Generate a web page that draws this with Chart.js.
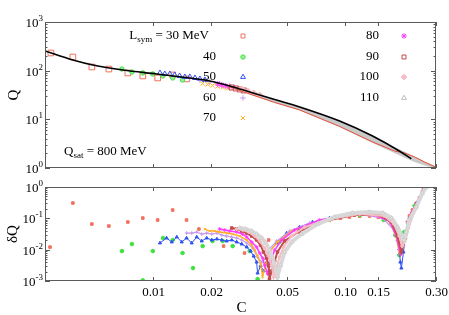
<!DOCTYPE html>
<html>
<head>
<meta charset="utf-8">
<script src="https://cdn.jsdelivr.net/npm/chart.js@4/dist/chart.umd.min.js"></script>
<style>
  body { margin: 0; background: #fff; }
  #wrap { position: relative; width: 449px; height: 315px; }
  #wrap canvas { position: absolute; left: 0; top: 0; }
</style>
</head>
<body>
<div id="wrap">
  <canvas id="topPanel" width="449" height="315"></canvas>
  <canvas id="bottomPanel" width="449" height="315"></canvas>
</div>
<script>
// C axis (log), shared by both panels
const cMin = 0.00274, cMax = 0.30;
const cTicks = [0.01, 0.02, 0.05, 0.10, 0.15, 0.30];
const cTickLabels = ['0.01', '0.02', '0.05', '0.10', '0.15', '0.30'];
const lsym = [30, 40, 50, 60, 70, 80, 90, 100, 110];

// top panel: fitted Q(C) curve (black)
const fitC = [0.00274, 0.00383, 0.00487, 0.00698, 0.0105, 0.0156, 0.0198, 0.0252, 0.0320, 0.0432, 0.0583, 0.0942, 0.140, 0.193, 0.223];
const fitQ = [254, 166, 131, 103, 85.5, 70.8, 61.5, 48.5, 36.5, 25.6, 18.0, 9.27, 4.56, 2.24, 1.54];

// top panel: grey band (L = 110 points) and thin red curve
const bandC = [0.0252, 0.0320, 0.0432, 0.0583, 0.0942, 0.140, 0.182, 0.205, 0.232, 0.261, 0.298];
const bandHiQ = [49.7, 37.4, 26.2, 18.8, 9.72, 4.78, 2.71, 2.19, 1.73, 1.37, 1.08];
const bandLoQ = [45.2, 32.5, 21.7, 15.2, 6.98, 3.28, 2.04, 1.65, 1.33, 1.13, 0.98];
const redQ = [46.3, 33.2, 22.2, 15.6, 7.15, 3.43, 2.24, 2.04, 1.69, 1.33, 1.05];

// top panel markers, one pair of arrays per L_sym
const q30C = [0.00294, 0.00383, 0.00481, 0.00590, 0.00741, 0.00887, 0.0106, 0.0127, 0.0150];
const q30 = [231, 191, 119, 108, 89.7, 77.9, 70.8, 81.6, 67.6];
const q40C = [0.00690, 0.00778, 0.00887, 0.0100, 0.0113, 0.0127, 0.0143];
const q40 = [108, 93.9, 89.7, 85.5, 77.9, 70.8, 64.4];
const q50C = [0.0109, 0.01155, 0.01227, 0.0130, 0.0138, 0.0147, 0.0156, 0.0166, 0.0176, 0.0187];
const q50 = [89.7, 85.5, 85.5, 81.6, 77.9, 74.3, 74.3, 70.8, 67.6, 64.4];
const q60C = [0.0156, 0.0176, 0.0198, 0.0223, 0.0252];
const q60 = [70.8, 64.4, 58.6, 53.3, 48.5];
const q70C = [0.0182, 0.01934, 0.0205, 0.0218, 0.0232, 0.0246];
const q70 = [54.6, 52.1, 49.7, 47.4, 45.2, 43.1];
const q80C = [0.0218, 0.0229, 0.0240, 0.0252, 0.0264];
const q80 = [53.3, 50.8, 48.5, 46.2, 44.2];
const q90C = [0.0258, 0.0271, 0.0284, 0.0298];
const q90 = [45.2, 43.1, 41.1, 39.2];
const q100C = [0.0291, 0.0313, 0.0336, 0.0361];
const q100 = [42.1, 38.3, 34.8, 31.7];

// bottom panel: deltaQ per L_sym
const dq30C = [0.00291, 0.00383, 0.00481, 0.00590, 0.00741, 0.00887, 0.0106, 0.0127, 0.0150, 0.0174, 0.0234, 0.0301, 0.0402, 0.0576, 0.0640, 0.0681, 0.0750, 0.0835, 0.095, 0.106, 0.120, 0.135, 0.150, 0.165, 0.175, 0.184, 0.200, 0.213, 0.218, 0.226, 0.236, 0.246, 0.255, 0.264];
const dq30 = [0.0121, 0.308, 0.0658, 0.0568, 0.0762, 0.102, 0.0883, 0.184, 0.0883, 0.0455, 0.0130, 0.0078, 0.0203, 0.0365, 0.050, 0.0611, 0.074, 0.0883, 0.100, 0.110, 0.116, 0.118, 0.108, 0.095, 0.070, 0.0365, 0.014, 0.076, 0.12, 0.184, 0.30, 0.45, 0.70, 1.0];
const dq40C = [0.00690, 0.00778, 0.00887, 0.0100, 0.0113, 0.0127, 0.0143, 0.0162, 0.0182, 0.0205, 0.0232, 0.0261, 0.0320, 0.0352, 0.0397, 0.0458, 0.0583, 0.0835, 0.120, 0.160, 0.184, 0.193, 0.205, 0.232];
const dq40 = [0.0090, 0.0151, 0.00105, 0.0090, 0.0235, 0.0203, 0.0078, 0.00258, 0.0130, 0.0188, 0.0188, 0.0130, 0.0090, 0.00115, 0.0035, 0.0175, 0.049, 0.095, 0.127, 0.088, 0.029, 0.0067, 0.0365, 0.25];
const dq50C = [0.0109, 0.0118, 0.01256, 0.01334, 0.01416, 0.0150, 0.01596, 0.01695, 0.0180, 0.0191, 0.0203, 0.0216, 0.0229, 0.0243, 0.0258, 0.0274, 0.0291, 0.0309, 0.0324, 0.0336, 0.0348, 0.0352, 0.0365, 0.0379, 0.0393, 0.0406, 0.0442, 0.0499, 0.0583, 0.0681, 0.0835, 0.106, 0.135, 0.161, 0.178, 0.189, 0.193, 0.1955, 0.198, 0.203, 0.208, 0.218, 0.240, 0.261];
const dq50 = [0.0163, 0.0235, 0.0175, 0.0253, 0.0175, 0.0235, 0.0163, 0.0253, 0.0188, 0.0235, 0.0203, 0.0218, 0.0203, 0.0188, 0.0203, 0.0175, 0.0151, 0.0121, 0.0090, 0.0062, 0.0040, 0.00179, 0.00298, 0.0021, 0.0040, 0.0084, 0.0163, 0.0339, 0.0527, 0.0762, 0.102, 0.137, 0.148, 0.110, 0.0611, 0.0203, 0.0105, 0.0040, 0.00258, 0.0084, 0.0292, 0.102, 0.331, 0.93];
const dq60C = [0.0150, 0.01596, 0.01695, 0.0180, 0.0191, 0.0203, 0.0216, 0.0229, 0.0243, 0.0258, 0.0274, 0.0291, 0.0309, 0.0332, 0.0352, 0.0370, 0.0388, 0.0406, 0.0442, 0.0518, 0.0658, 0.0887, 0.120, 0.158, 0.181, 0.193, 0.203, 0.213, 0.246];
const dq60 = [0.0339, 0.0339, 0.0365, 0.0315, 0.0339, 0.0315, 0.0339, 0.0292, 0.0272, 0.0253, 0.0235, 0.0203, 0.0163, 0.0113, 0.0058, 0.0040, 0.0054, 0.0105, 0.0188, 0.0393, 0.0708, 0.110, 0.137, 0.102, 0.0423, 0.0121, 0.014, 0.0762, 0.384];
const dq70C = [0.0187, 0.0198, 0.0210, 0.0223, 0.0243, 0.0261, 0.0284, 0.0309, 0.0328, 0.0340, 0.0352, 0.0365, 0.0374, 0.0388, 0.0406, 0.0447, 0.0530, 0.0741, 0.0999, 0.135, 0.168, 0.184, 0.193, 0.203, 0.218, 0.252];
const dq70 = [0.0455, 0.0393, 0.0393, 0.0365, 0.0339, 0.0315, 0.0272, 0.0203, 0.0140, 0.0097, 0.0062, 0.0035, 0.0014, 0.0035, 0.0084, 0.0175, 0.0393, 0.082, 0.118, 0.137, 0.095, 0.034, 0.0084, 0.0203, 0.095, 0.52];
const dq80C = [0.0223, 0.0237, 0.0252, 0.0274, 0.0294, 0.0309, 0.0328, 0.0348, 0.0361, 0.0374, 0.0383, 0.0397, 0.0411, 0.0432, 0.0470, 0.0549, 0.0741, 0.106, 0.143, 0.172, 0.1866, 0.1957, 0.205, 0.2234, 0.2576];
const dq80 = [0.0455, 0.0423, 0.0393, 0.0365, 0.0315, 0.0253, 0.0175, 0.0121, 0.0078, 0.0054, 0.0032, 0.0017, 0.0040, 0.0097, 0.0203, 0.0423, 0.0883, 0.127, 0.127, 0.082, 0.0272, 0.0072, 0.0235, 0.148, 0.80];
const dq90C = [0.0258, 0.0274, 0.0291, 0.0309, 0.0328, 0.0348, 0.0365, 0.0378, 0.0393, 0.0402, 0.0406, 0.0417, 0.0432, 0.0447, 0.0487, 0.0583, 0.0787, 0.1127, 0.152, 0.176, 0.189, 0.198, 0.2077, 0.226, 0.261];
const dq90 = [0.0490, 0.0455, 0.0393, 0.0339, 0.0272, 0.0203, 0.0140, 0.0084, 0.0054, 0.0030, 0.00115, 0.0021, 0.0043, 0.0084, 0.0188, 0.0393, 0.082, 0.127, 0.127, 0.0762, 0.0272, 0.0084, 0.0235, 0.148, 0.86];
const dq100C = [0.0274, 0.0294, 0.0316, 0.0340, 0.0361, 0.0383, 0.0402, 0.0417, 0.0427, 0.0442, 0.0458, 0.0481, 0.0530, 0.0620, 0.0835, 0.120, 0.161, 0.181, 0.193, 0.200, 0.205, 0.2154, 0.237, 0.2673];
const dq100 = [0.0455, 0.0423, 0.0365, 0.0272, 0.0188, 0.0113, 0.0062, 0.0032, 0.00133, 0.0026, 0.0058, 0.0121, 0.0272, 0.0527, 0.095, 0.137, 0.118, 0.0658, 0.0272, 0.013, 0.0175, 0.049, 0.247, 1.0];
const dq110C = [0.0284, 0.0305, 0.0328, 0.0348, 0.0370, 0.0388, 0.0406, 0.0422, 0.0437, 0.0447, 0.0464, 0.0487, 0.0530, 0.0597, 0.0723, 0.0887, 0.110, 0.135, 0.1585, 0.176, 0.189, 0.200, 0.205, 0.210, 0.218, 0.237, 0.2547, 0.2673];
const dq110 = [0.0490, 0.0455, 0.0393, 0.0315, 0.0235, 0.0163, 0.0097, 0.0054, 0.00258, 0.0014, 0.0032, 0.0084, 0.0175, 0.0315, 0.0658, 0.110, 0.148, 0.159, 0.148, 0.102, 0.0527, 0.0253, 0.0203, 0.0365, 0.0883, 0.23, 0.64, 1.0];

// styles
const serif = '"Liberation Serif", "Times New Roman", serif';
const colors = ['#f2705e', '#3ee23e', '#2f52f2', '#c59af0', '#ffb020', '#ff3cff', '#c24c4c', '#f6bcc4', '#bdbdbd'];
const fills = ['rgba(255,255,255,0.6)', '#9af09a', 'rgba(255,255,255,0.5)', '#c59af0', '#ffb020', '#ff3cff', 'rgba(255,255,255,0.6)', '#f6bcc4', 'rgba(255,255,255,0.5)'];
const shapes = ['rect', 'circle', 'triangle', 'cross', 'crossRot', 'star', 'rect', 'rectRot', 'triangle'];

const zip = (xs, ys) => xs.map((x, i) => ({ x: x, y: ys[i] }));

function seg(ctx, x1, y1, x2, y2) {
    ctx.beginPath();
    ctx.moveTo(x1, y1);
    ctx.lineTo(x2, y2);
    ctx.stroke();
}

// "10" with a raised exponent, right aligned at xr
function powLabel(ctx, exp, xr, yc) {
    ctx.font = '9px ' + serif;
    const we = ctx.measureText(exp).width;
    ctx.font = '13px ' + serif;
    const wb = ctx.measureText('10').width;
    const x0 = xr - we - wb;
    ctx.textAlign = 'left';
    ctx.textBaseline = 'middle';
    ctx.fillText('10', x0, yc + 1);
    ctx.font = '9px ' + serif;
    ctx.fillText(exp, x0 + wb, yc - 4);
}

// text with a subscript part: main, sub, rest
function subText(ctx, main, sub, rest, x, yc, alignRight) {
    ctx.textBaseline = 'middle';
    ctx.textAlign = 'left';
    ctx.font = '13px ' + serif;
    const w1 = ctx.measureText(main).width, w3 = ctx.measureText(rest).width;
    ctx.font = '9px ' + serif;
    const w2 = ctx.measureText(sub).width;
    let x0 = alignRight ? x - w1 - w2 - w3 : x;
    ctx.font = '13px ' + serif;
    ctx.fillText(main, x0, yc);
    ctx.font = '9px ' + serif;
    ctx.fillText(sub, x0 + w1, yc + 4);
    ctx.font = '13px ' + serif;
    ctx.fillText(rest, x0 + w1 + w2, yc);
}

// box, inward ticks, tick labels and titles drawn from the chart's own scales
const framePlugin = {
    id: 'frame',
    afterDatasetsDraw(chart, args, opts) {
        const ctx = chart.ctx, a = chart.chartArea;
        const xs = chart.scales.x, ys = chart.scales.y;
        ctx.save();
        ctx.strokeStyle = '#5a5a5a';
        ctx.fillStyle = '#000';
        ctx.lineWidth = 1;
        ctx.strokeRect(a.left + 0.5, a.top + 0.5, a.right - a.left - 1, a.bottom - a.top - 1);

        cTicks.forEach((c, i) => {
            const px = Math.round(xs.getPixelForValue(c)) + 0.5;
            seg(ctx, px, a.bottom, px, a.bottom - 4);
            seg(ctx, px, a.top, px, a.top + 4);
            if (opts.xLabels) {
                ctx.font = '13px ' + serif;
                ctx.textAlign = 'center';
                ctx.textBaseline = 'middle';
                ctx.fillText(cTickLabels[i], px, a.bottom + 12);
            }
        });

        for (let e = opts.eMin; e <= opts.eMax; e++) {
            for (let m = 1; m <= 9; m++) {
                const v = m * Math.pow(10, e);
                if (v > ys.max * 1.0001) break;
                const py = Math.round(ys.getPixelForValue(v)) + 0.5;
                const len = m === 1 ? 5 : 2.5;
                seg(ctx, a.left, py, a.left + len, py);
                seg(ctx, a.right, py, a.right - len, py);
                if (m === 1) powLabel(ctx, String(e), a.left - 2, py);
            }
        }

        // axis titles
        ctx.font = '15px ' + serif;
        ctx.textAlign = 'center';
        ctx.textBaseline = 'middle';
        ctx.save();
        ctx.translate(opts.yTitleX, (a.top + a.bottom) / 2);
        ctx.rotate(-Math.PI / 2);
        ctx.fillText(opts.yTitle, 0, 0);
        ctx.restore();
        if (opts.xTitle) ctx.fillText(opts.xTitle, (a.left + a.right) / 2 + 1, a.bottom + 27);

        if (opts.legend) drawLegend(ctx);
        ctx.restore();
    }
};

function legendMark(ctx, k, x, y) {
    ctx.strokeStyle = colors[k];
    ctx.fillStyle = fills[k];
    ctx.lineWidth = 1;
    Chart.helpers.drawPoint(ctx, { pointStyle: shapes[k], radius: k === 1 ? 2.2 : 2.8, rotation: 0, borderWidth: 1 }, x, y);
}

function drawLegend(ctx) {
    const rows = [36, 57, 77, 98, 118];
    ctx.fillStyle = '#000';
    subText(ctx, 'L', 'sym', ' = ' + lsym[0] + ' MeV', 209, rows[0], true);
    legendMark(ctx, 0, 243, rows[0]);
    for (let k = 1; k <= 4; k++) {
        ctx.fillStyle = '#000';
        ctx.font = '13px ' + serif;
        ctx.textAlign = 'right';
        ctx.textBaseline = 'middle';
        ctx.fillText(String(lsym[k]), 216, rows[k]);
        legendMark(ctx, k, 243, rows[k]);
    }
    for (let k = 5; k <= 8; k++) {
        ctx.fillStyle = '#000';
        ctx.font = '13px ' + serif;
        ctx.textAlign = 'right';
        ctx.textBaseline = 'middle';
        ctx.fillText(String(lsym[k]), 379, rows[k - 5]);
        legendMark(ctx, k, 404, rows[k - 5]);
    }
    ctx.fillStyle = '#000';
    subText(ctx, 'Q', 'sat', ' = 800 MeV', 64, 152, false);
}

function baseOptions(yMin, yMax, padding, frame) {
    return {
        responsive: false,
        animation: false,
        events: [],
        layout: { padding: padding },
        scales: {
            x: { type: 'logarithmic', min: cMin, max: cMax, display: false },
            y: { type: 'logarithmic', min: yMin, max: yMax, display: false }
        },
        plugins: { legend: { display: false }, tooltip: { enabled: false }, frame: frame }
    };
}

function markerSet(cs, vs, k, radius, order) {
    return {
        data: zip(cs, vs),
        showLine: false,
        pointStyle: shapes[k],
        pointRadius: radius,
        pointBorderColor: colors[k],
        pointBackgroundColor: fills[k],
        pointBorderWidth: 1,
        order: order
    };
}

// top panel
const topSets = [
    { data: zip(bandC, bandHiQ), borderWidth: 0, pointRadius: 0, fill: false, order: 30 },
    { data: zip(bandC, bandLoQ), borderWidth: 0, pointRadius: 0, fill: 0, backgroundColor: '#c9c9c9', order: 29 },
    { data: zip(bandC, redQ), borderColor: '#e8503c', borderWidth: 1, pointRadius: 0, fill: false, order: 2 },
    markerSet(q30C, q30, 0, 4, 12),
    markerSet(q40C, q40, 1, 2.2, 11),
    markerSet(q50C, q50, 2, 3, 10),
    markerSet(q60C, q60, 3, 3, 9),
    markerSet(q70C, q70, 4, 3, 8),
    markerSet(q80C, q80, 5, 3, 7),
    markerSet(q90C, q90, 6, 3.5, 6),
    markerSet(q100C, q100, 7, 3, 5),
    { data: zip(fitC, fitQ), borderColor: '#000', borderWidth: 1.6, pointRadius: 0, fill: false, cubicInterpolationMode: 'monotone', order: 0 }
];

new Chart(document.getElementById('topPanel'), {
    type: 'line',
    data: { datasets: topSets },
    options: baseOptions(1, 1000, { left: 45, top: 22, right: 13, bottom: 147 },
        { eMin: 0, eMax: 3, yTitle: 'Q', yTitleX: 14, legend: true, xLabels: false }),
    plugins: [framePlugin]
});

// bottom panel
function dqSet(cs, vs, k, order, line) {
    const s = markerSet(cs, vs, k, 1.8, order);
    s.pointBackgroundColor = colors[k];
    if (line) {
        s.showLine = true;
        s.borderColor = colors[k];
        s.borderWidth = line;
    }
    return s;
}

const g110 = dqSet(dq110C, dq110, 8, 1, 4);
g110.borderColor = '#d8d8d8';
g110.pointBorderColor = '#cfcfcf';
g110.pointBackgroundColor = '#e2e2e2';
g110.pointRadius = 2.4;

const bottomSets = [
    dqSet(dq30C, dq30, 0, 12, 0),
    dqSet(dq40C, dq40, 1, 11, 0),
    dqSet(dq50C, dq50, 2, 10, 1),
    dqSet(dq60C, dq60, 3, 9, 1.2),
    dqSet(dq70C, dq70, 4, 8, 1.4),
    dqSet(dq80C, dq80, 5, 7, 1.6),
    dqSet(dq90C, dq90, 6, 6, 2),
    dqSet(dq100C, dq100, 7, 5, 2),
    g110
];

new Chart(document.getElementById('bottomPanel'), {
    type: 'line',
    data: { datasets: bottomSets },
    options: baseOptions(0.001, 1, { left: 45, top: 187, right: 13, bottom: 34 },
        { eMin: -3, eMax: 0, yTitle: 'δQ', yTitleX: 13, legend: false, xLabels: true, xTitle: 'C' }),
    plugins: [framePlugin]
});
</script>
</body>
</html>
